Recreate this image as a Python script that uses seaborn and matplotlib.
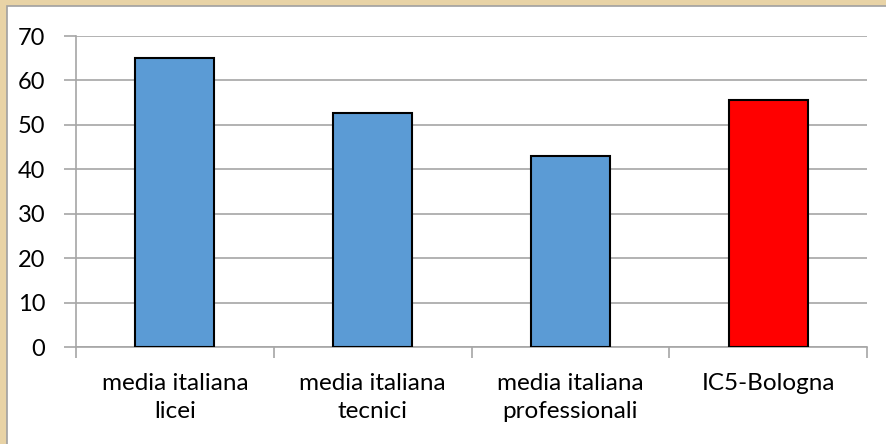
import matplotlib
matplotlib.use("Agg")
import matplotlib.pyplot as plt
import seaborn as sns
import pandas as pd
from matplotlib.patches import Rectangle

categories = ["media italiana\nlicei", "media italiana\ntecnici",
              "media italiana\nprofessionali", "IC5-Bologna"]
values = [65.0, 52.6, 42.9, 55.6]
bar_colors = ["#5b9bd5", "#5b9bd5", "#5b9bd5", "#ff0000"]
yticks = [0, 10, 20, 30, 40, 50, 60, 70]

sns.set_style("white")
plt.rcParams['font.family'] = ['Lato', 'DejaVu Sans']

df = pd.DataFrame({"cat": categories, "val": values})

fig = plt.figure(figsize=(8.86, 4.44), dpi=100)
fig.patch.set_facecolor("#e8d3a6")
# white chart box
fig.patches.append(Rectangle((7/886, -0.01), 1.0, 1 - 6/444 + 0.01,
                             transform=fig.transFigure, facecolor="white",
                             edgecolor="#a0a0a0", linewidth=1.2, zorder=-10))

ax = fig.add_axes([76/886, 1 - 347/444, (867 - 76)/886, (347 - 36)/444])
ax.set_zorder(5)
ax.set_facecolor("white")
sns.barplot(data=df, x="cat", y="val", hue="cat", palette=bar_colors,
            legend=False, width=0.4, edgecolor="black", linewidth=1.5,
            ax=ax, zorder=3, saturation=1)

ax.set_ylim(0, 70)
ax.set_xlim(-0.5, 3.5)
ax.set_yticks(yticks)
ax.set_yticklabels([str(v) for v in yticks])
ax.yaxis.grid(True, color="#a6a6a6", linewidth=1.2, zorder=0)
ax.set_axisbelow(True)
ax.set_xlabel("")
ax.set_ylabel("")

for s in ["top", "right"]:
    ax.spines[s].set_visible(False)
for s in ["left", "bottom"]:
    ax.spines[s].set_visible(True)
    ax.spines[s].set_color("#a6a6a6")
    ax.spines[s].set_linewidth(1.2)

# category boundary ticks (major) and labels (minor)
ax.set_xticks([-0.5, 0.5, 1.5, 2.5, 3.5])
ax.set_xticklabels([])
ax.set_xticks([0, 1, 2, 3], minor=True)
ax.set_xticklabels(categories, minor=True, fontsize=17.5, color="black",
                   linespacing=1.37)
ax.tick_params(axis="x", which="major", length=8, width=1.2, color="#a6a6a6",
               direction="out", bottom=True)
ax.tick_params(axis="x", which="minor", length=0, pad=19, labelcolor="black")
ax.tick_params(axis="y", length=9, width=1.2, color="#a6a6a6", direction="out",
               labelsize=17, pad=13, left=True, labelcolor="black")

fig.savefig("out.png", dpi=100, facecolor=fig.get_facecolor())
